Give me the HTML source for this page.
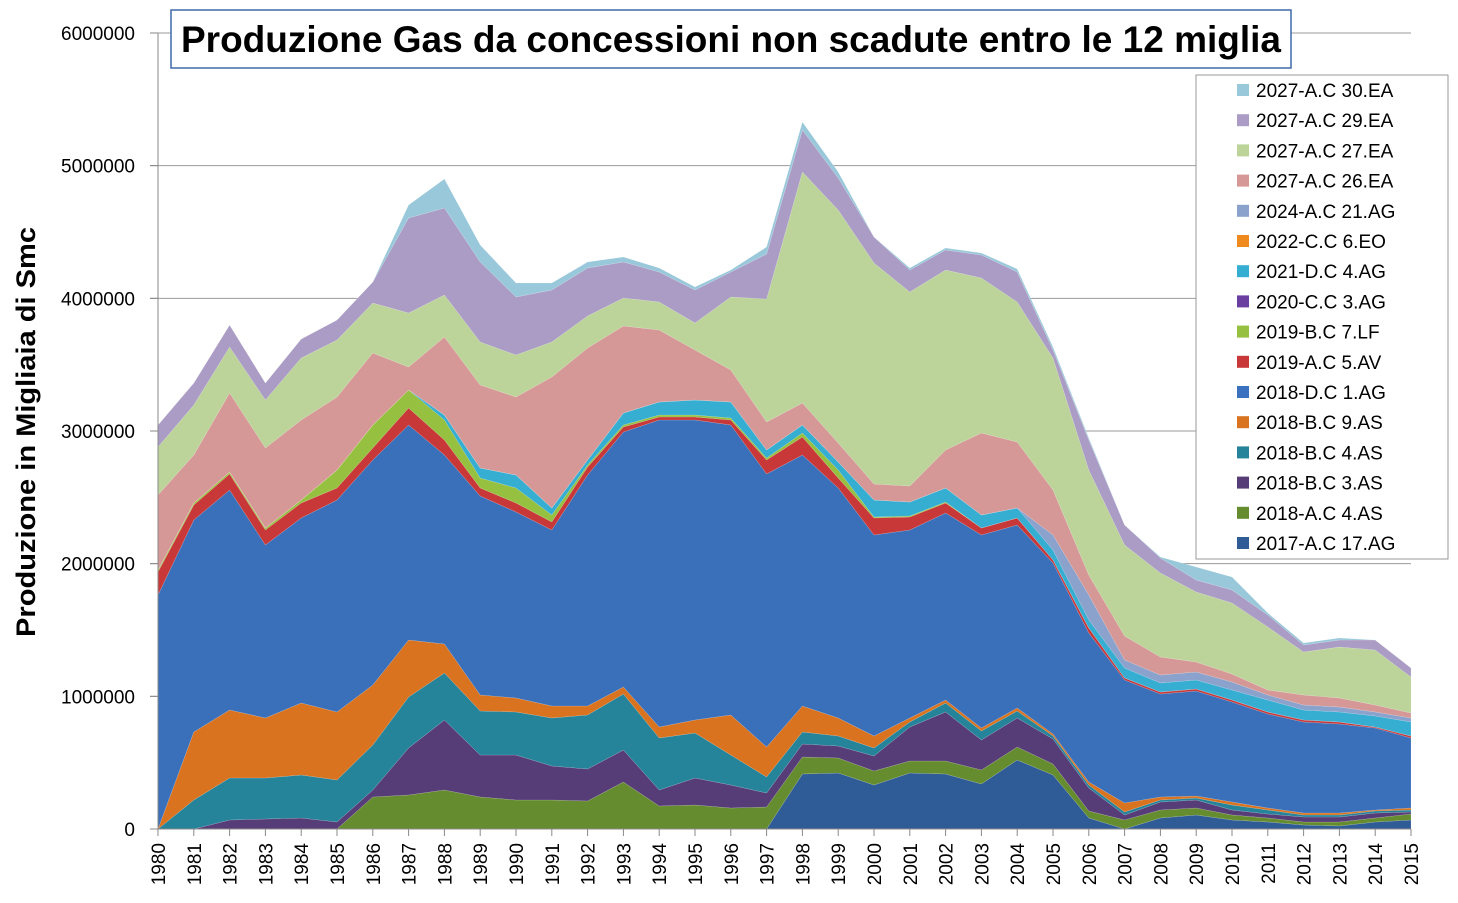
<!DOCTYPE html><html><head><meta charset="utf-8"><style>body{margin:0;background:#fff}svg{display:block;font-family:"Liberation Sans",sans-serif}</style></head><body>
<svg id="s" width="1458" height="903" xmlns="http://www.w3.org/2000/svg">
<rect width="1458" height="903" fill="#fff"/>
<g id="grid"></g><g id="areas"></g><g id="axes"></g>
<rect x="171" y="10" width="1120" height="58" fill="#fff" stroke="#3e6aa8" stroke-width="1.5"/>
<text x="731" y="52" text-anchor="middle" font-size="37" font-weight="bold" textLength="1100" lengthAdjust="spacingAndGlyphs">Produzione Gas da concessioni non scadute entro le 12 miglia</text>
<text transform="translate(35,432) rotate(-90)" text-anchor="middle" font-size="27" font-weight="bold" textLength="410" lengthAdjust="spacingAndGlyphs">Produzione in Migliaia di Smc</text>
<rect x="1196" y="75" width="252" height="484" fill="#fff" stroke="#999"/>
<g id="leg"></g>
</svg>
<script>
const NS="http://www.w3.org/2000/svg";
function el(t,a,p,txt){const e=document.createElementNS(NS,t);for(const k in a)e.setAttribute(k,a[k]);if(txt!==undefined)e.textContent=txt;document.getElementById(p).appendChild(e);return e;}
const X0=158,DX=(1411-158)/35,Y0=829;
const xs=i=>X0+i*DX;
for(let k=0;k<=6;k++){const y=Y0-k*132.67;
 if(k>0)el('line',{x1:150,x2:1411,y1:y,y2:y,stroke:'#999','stroke-width':1},'grid');
 el('line',{x1:150,x2:158,y1:y,y2:y,stroke:'#888'},'axes');
 el('text',{x:135,y:y+7,'text-anchor':'end','font-size':19},'axes',String(k*1000000));}
const B1=[829,829,829,829,829,829,829,829,829,829,829,829,829,829,829,829,829,829,774,773,785,773,774,784,760,775,818,829,818,815,820,822,825,826,822,820];
const B2=[829,829,829,829,829,829,797,795,790,797,800,800,801,782,806,805,808,807,757,758,771,761,761,770,747,764,811,820,810,808,815,818,822,822,818,814];
const B3=[829,829,820,819,818,822,790,748,720,755,755,766,769,750,790,778,785,793,744,746,756,727,712,740,718,739,788,815,802,800,810,814,817,817,813,812];
const B4=[829,800,778,778,775,780,745,697,673,711,712,718,715,694,738,733,755,777,732,736,748,722,703,731,711,736,785,812,800,798,805,810,815,815,811,810];
const B5=[829,732,710,718,703,712,685,640,644,695,698,706,706,687,727,720,715,747,706,718,736,718,700,728,708,734,782,803,797,796,802,808,813,813,810,808];
const B6=[595,520,490,545,518,500,460,425,455,496,512,530,475,432,420,420,425,474,455,488,535,530,513,535,525,563,633,680,694,691,702,714,722,724,728,738];
const B7=[572,505,474,530,503,488,448,408,440,488,503,522,467,427,417,417,420,460,437,478,518,517,503,528,518,560,628,678,692,689,700,712,720,722,727,736];
const B8=[570,503,472,528,500,470,425,390,420,478,488,515,465,425,415,415,418,458,433,470,517,516,502,528,518,560,628,678,692,689,700,712,720,722,727,736];
const B10=[570,503,472,528,500,470,425,390,415,468,475,508,460,413,402,400,402,450,425,462,500,502,488,515,508,550,620,668,683,680,690,700,710,712,716,722];
const B12=B10.map((v,i)=>i<25?v:[535,595,660,675,672,682,695,705,707,712,718][i-25]);
const B13=[495,455,393,448,420,397,353,367,337,385,397,377,348,326,330,350,370,422,403,443,484,486,450,433,442,490,575,636,657,662,674,690,695,698,705,713];
const B14=[447,405,347,400,358,340,303,313,295,342,355,342,316,298,302,323,297,299,172,210,263,292,270,278,302,358,470,545,573,592,603,627,652,647,650,677];
const B15=[425,383,325,383,339,320,282,218,208,262,297,290,268,262,272,290,272,254,130,178,237,270,250,255,272,350,440,525,558,580,590,615,645,640,640,668];
const B16=[425,383,325,383,339,320,282,205,179,245,283,283,262,257,268,287,270,247,122,172,237,268,248,253,269,347,438,525,557,567,577,613,643,638,640,668];
const Bs=[B1,B2,B3,B4,B5,B6,B7,B8,B10,B12,B13,B14,B15,B16];
const cols=['#2f5c97','#668c30','#573d78','#25839a','#d9731f','#3a6fba','#c83838','#96c040','#35aed2','#8aa2cc','#d69896','#bcd49a','#aa9cc4','#98c8da'];
for(let j=1;j<Bs.length;j++)for(let i=0;i<36;i++)Bs[j][i]=Math.min(Bs[j][i],Bs[j-1][i]);
let prev=new Array(36).fill(829);
Bs.forEach((b,j)=>{let d='M'+xs(0)+','+b[0];for(let i=1;i<36;i++)d+=' L'+xs(i).toFixed(1)+','+b[i];
 for(let i=35;i>=0;i--)d+=' L'+xs(i).toFixed(1)+','+prev[i];d+='Z';
 el('path',{d:d,fill:cols[j],stroke:'rgba(255,255,255,0.25)','stroke-width':0.5},'areas');prev=b;});
el('line',{x1:158,x2:158,y1:33,y2:829,stroke:'#888'},'axes');
el('line',{x1:158,x2:1411,y1:829,y2:829,stroke:'#888'},'axes');
for(let i=0;i<36;i++){const x=xs(i);el('line',{x1:x,x2:x,y1:829,y2:836,stroke:'#888'},'axes');
 el('text',{transform:`translate(${x+7},843) rotate(-90)`,'text-anchor':'end','font-size':19},'axes',String(1980+i));}
const names=['2027-A.C 30.EA','2027-A.C 29.EA','2027-A.C 27.EA','2027-A.C 26.EA','2024-A.C 21.AG','2022-C.C 6.EO','2021-D.C 4.AG','2020-C.C 3.AG','2019-B.C 7.LF','2019-A.C 5.AV','2018-D.C 1.AG','2018-B.C 9.AS','2018-B.C 4.AS','2018-B.C 3.AS','2018-A.C 4.AS','2017-A.C 17.AG'];
const lc=['#98c8da','#aa9cc4','#bcd49a','#d69896','#8aa2cc','#ef8a1e','#35aed2','#6a3fa0','#96c040','#c83838','#3a72c0','#d9731f','#25839a','#573d78','#668c30','#2f5c97'];
names.forEach((n,k)=>{const y=90+k*30.2;el('rect',{x:1237,y:y-6,width:12,height:12,fill:lc[k]},'leg');
 el('text',{x:1256,y:y+7,'font-size':19},'leg',n);});
</script>
</body></html>
